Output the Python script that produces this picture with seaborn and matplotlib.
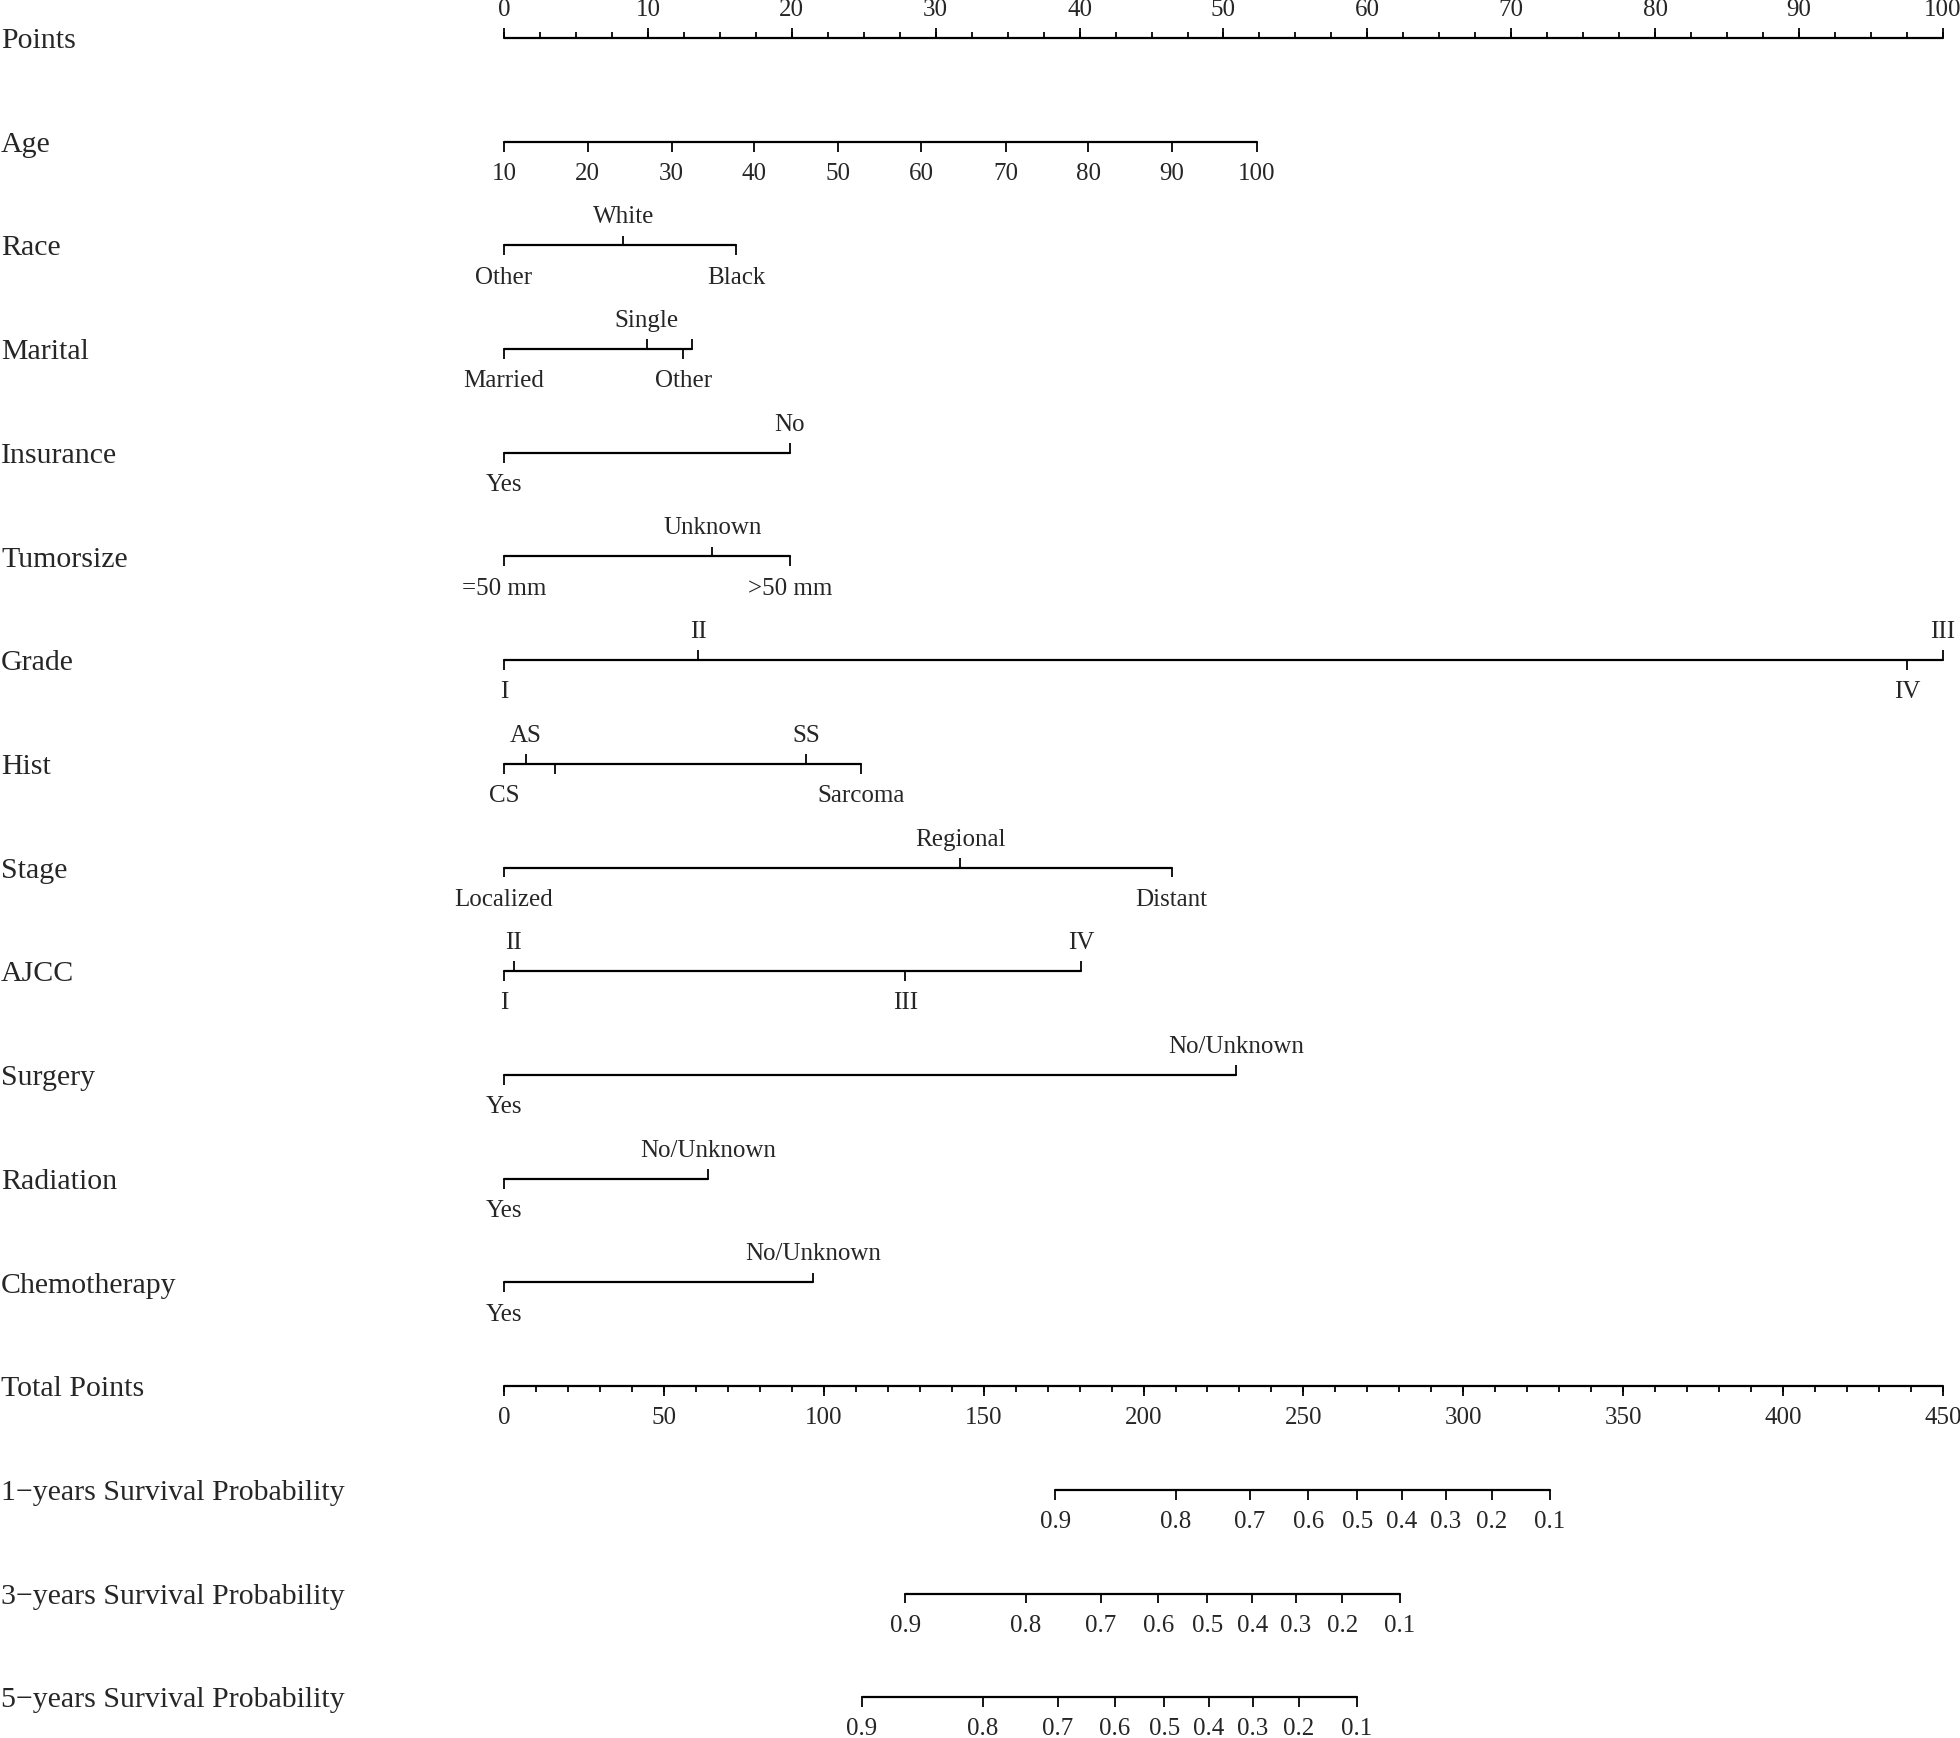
import matplotlib
matplotlib.use("Agg")
import matplotlib.pyplot as plt
import pandas as pd
import seaborn as sns

# ---- data ----
point_major = [0, 10, 20, 30, 40, 50, 60, 70, 80, 90, 100]
point_minor = [x / 2 for x in range(0, 201, 5)]  # every 2.5 points

age_values = [10, 20, 30, 40, 50, 60, 70, 80, 90, 100]
age_points = [0, 5.83, 11.65, 17.4, 23.2, 29.0, 34.9, 40.6, 46.4, 52.3]

race_labels = ["Other", "White", "Black"]
race_points = [0, 8.29, 16.12]

marital_labels = ["Married", "Single", "Other", ""]
marital_points = [0, 9.91, 12.46, 13.04]

insurance_labels = ["Yes", "No"]
insurance_points = [0, 19.87]

tumor_labels = ["=50 mm", "Unknown", ">50 mm"]
tumor_points = [0, 14.48, 19.87]

grade_labels = ["I", "II", "IV", "III"]
grade_points = [0, 13.5, 97.5, 100]

hist_labels = ["CS", "AS", "", "SS", "Sarcoma"]
hist_points = [0, 1.53, 3.57, 21.0, 24.8]

stage_labels = ["Localized", "Regional", "Distant"]
stage_points = [0, 31.7, 46.4]

ajcc_labels = ["I", "II", "III", "IV"]
ajcc_points = [0, 0.69, 27.9, 40.1]

surgery_labels = ["Yes", "No/Unknown"]
surgery_points = [0, 50.9]

radiation_labels = ["Yes", "No/Unknown"]
radiation_points = [0, 14.2]

chemo_labels = ["Yes", "No/Unknown"]
chemo_points = [0, 21.5]

total_major = [0, 50, 100, 150, 200, 250, 300, 350, 400, 450]
total_minor = list(range(0, 451, 10))

surv_labels = ["0.9", "0.8", "0.7", "0.6", "0.5", "0.4", "0.3", "0.2", "0.1"]
surv1_total = [172.4, 210.0, 233.3, 251.5, 266.8, 280.8, 294.6, 309.0, 327.0]
surv3_total = [125.5, 163.2, 186.7, 204.6, 219.9, 234.0, 247.7, 262.1, 280.2]
surv5_total = [111.9, 149.7, 173.1, 191.0, 206.5, 220.5, 234.1, 248.6, 266.6]

row_names = ["Points", "Age", "Race", "Marital", "Insurance", "Tumorsize", "Grade",
             "Hist", "Stage", "AJCC", "Surgery", "Radiation", "Chemotherapy",
             "Total Points", "1\u2212years Survival Probability",
             "3\u2212years Survival Probability", "5\u2212years Survival Probability"]

# ---- style ----
sns.set_style("white")
plt.rcParams["font.family"] = ["Liberation Serif", "DejaVu Serif"]

LW = 1.6
TICK = 0.095
MINOR = 0.055
OFF_UP = 0.27
OFF_DN = 0.31
FS_TICK = 18
FS_ROW = 21.5

fig = plt.figure(figsize=(19.6, 17.38), dpi=100)
ax = fig.add_axes([0, 0, 1, 1])
ax.set_xlim(-35.02, 101.18)
ax.set_ylim(16.393, -0.366)
ax.set_axis_off()


def hline(row, x0, x1):
    df = pd.DataFrame({"x": [x0, x1], "y": [row, row]})
    sns.lineplot(data=df, x="x", y="y", ax=ax, color="black", linewidth=LW,
                 estimator=None, sort=False, legend=False)


def ticks(row, xs, length, up):
    if up:
        ax.vlines(xs, row - length, row, color="black", linewidth=LW * 0.8)
    else:
        ax.vlines(xs, row, row + length, color="black", linewidth=LW * 0.8)


def labels(row, xs, texts, up):
    for x, t in zip(xs, texts):
        y = row - OFF_UP if up else row + OFF_DN
        ax.text(x, y, t, ha="center", va="center", fontsize=FS_TICK)


def categorical(row, pts, texts):
    hline(row, min(pts), max(pts))
    order = sorted(range(len(pts)), key=lambda i: pts[i])
    for k, i in enumerate(order):
        up = k % 2 == 1
        ticks(row, [pts[i]], TICK, up)
        labels(row, [pts[i]], [texts[i]], up)


# row names
for r, name in enumerate(row_names):
    ax.text(-34.95, r + 0.03, name, ha="left", va="center", fontsize=FS_ROW)

# Points
hline(0, 0, 100)
ticks(0, point_minor, MINOR, True)
ticks(0, point_major, TICK, True)
labels(0, point_major, [str(v) for v in point_major], True)

# Age
hline(1, age_points[0], age_points[-1])
ticks(1, age_points, TICK, False)
labels(1, age_points, [str(v) for v in age_values], False)

cats = [
    (race_points, race_labels),
    (marital_points, marital_labels),
    (insurance_points, insurance_labels),
    (tumor_points, tumor_labels),
    (grade_points, grade_labels),
    (hist_points, hist_labels),
    (stage_points, stage_labels),
    (ajcc_points, ajcc_labels),
    (surgery_points, surgery_labels),
    (radiation_points, radiation_labels),
    (chemo_points, chemo_labels),
]
for r, (pts, texts) in enumerate(cats, start=2):
    categorical(r, pts, texts)

# Total points (0-450 mapped onto the 0-100 points scale)
scale = 100 / 450
hline(13, 0, 100)
ticks(13, [v * scale for v in total_minor], MINOR, False)
ticks(13, [v * scale for v in total_major], TICK, False)
labels(13, [v * scale for v in total_major], [str(v) for v in total_major], False)

# survival probabilities
for r, tot in zip([14, 15, 16], [surv1_total, surv3_total, surv5_total]):
    xs = [v * scale for v in tot]
    hline(r, min(xs), max(xs))
    ticks(r, xs, TICK, False)
    labels(r, xs, surv_labels, False)

fig.savefig("out.png", dpi=100)
